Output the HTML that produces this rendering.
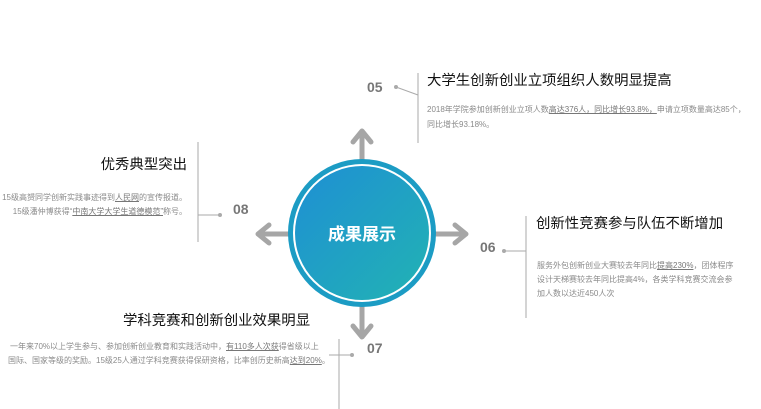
<!DOCTYPE html>
<html><head><meta charset="utf-8"><style>
body{margin:0;width:761px;height:409px;background:#fff;position:relative;overflow:hidden;font-family:"Liberation Sans","Noto Sans CJK SC",sans-serif}
.a{position:absolute;white-space:nowrap;line-height:1}
.t{font-size:14.4px;color:#111}
.b{font-size:8px;color:#8a8a8a}
.n{font-size:14px;font-weight:bold;color:#777}
u{text-decoration:underline;color:#777}
</style></head><body>
<svg width="761" height="409" style="position:absolute;left:0;top:0">
<defs><linearGradient id="g" x1="0" y1="0" x2="1" y2="1"><stop offset="0" stop-color="#1e8fd4"/><stop offset="1" stop-color="#22b3b3"/></linearGradient></defs>
<g stroke="#a6a6a6" stroke-width="5" fill="none" stroke-linecap="round" stroke-linejoin="round">
<line x1="362" y1="133" x2="362" y2="165"/><polyline points="353,142 362,131 371,142"/>
<line x1="362" y1="300" x2="362" y2="336"/><polyline points="353,326 362,337 371,326"/>
<line x1="259" y1="234" x2="295" y2="234"/><polyline points="269,225 258,234 269,243"/>
<line x1="430" y1="234" x2="465" y2="234"/><polyline points="455,225 466,234 455,243"/>
</g>
<circle cx="362" cy="233" r="74" fill="#1c9cc4"/>
<circle cx="362" cy="233" r="69" fill="#fff"/>
<circle cx="362" cy="233" r="67" fill="url(#g)"/>
<g stroke="#aaa" stroke-width="1" fill="#aaa">
<line x1="418" y1="73" x2="418" y2="143"/><line x1="396" y1="87" x2="418" y2="95"/><circle cx="396" cy="87" r="2" stroke="none"/>
<line x1="198" y1="142" x2="198" y2="242"/><line x1="198" y1="215" x2="220" y2="215"/><circle cx="220" cy="215" r="2" stroke="none"/>
<line x1="526" y1="216" x2="526" y2="318"/><line x1="504" y1="251" x2="526" y2="251"/><circle cx="504" cy="251" r="2" stroke="none"/>
<line x1="339" y1="339" x2="339" y2="409"/><line x1="329" y1="355" x2="352" y2="355"/><circle cx="352" cy="355" r="2" stroke="none"/>
</g>
<text x="362" y="240" fill="#fff" font-size="17" font-weight="bold" text-anchor="middle" font-family="Liberation Sans,Noto Sans CJK SC,sans-serif">成果展示</text>
</svg>
<div class="a n" style="left:367px;top:80px">05</div>
<div class="a n" style="left:233px;top:202px">08</div>
<div class="a n" style="left:480px;top:240px">06</div>
<div class="a n" style="left:367px;top:341px">07</div>
<div class="a t" style="left:427px;top:74px">大学生创新创业立项组织人数明显提高</div>
<div class="a b" style="left:427px;top:106px">2018年学院参加创新创业立项人数<u>高达376人，同比增长93.8%，</u>申请立项数量高达85个，</div>
<div class="a b" style="left:427px;top:121px">同比增长93.18%。</div>
<div class="a t" style="right:574px;top:158px">优秀典型突出</div>
<div class="a b" style="right:574px;top:194px">15级高赟同学创新实践事迹得到<u>人民网</u>的宣传报道。</div>
<div class="a b" style="right:574px;top:208px">15级潘仲博获得“<u>中南大学大学生道德模范”</u>称号。</div>
<div class="a t" style="left:536px;top:217px">创新性竞赛参与队伍不断增加</div>
<div class="a b" style="left:537px;top:262px">服务外包创新创业大赛较去年同比<u>提高230%</u>，团体程序</div>
<div class="a b" style="left:537px;top:276px">设计天梯赛较去年同比提高4%，各类学科竞赛交流会参</div>
<div class="a b" style="left:537px;top:290px">加人数以达近450人次</div>
<div class="a t" style="left:123px;top:314px">学科竞赛和创新创业效果明显</div>
<div class="a b" style="left:10px;top:343px">一年来70%以上学生参与、参加创新创业教育和实践活动中，<u>有110多人次获</u>得省级以上</div>
<div class="a b" style="left:8px;top:357px">国际、国家等级的奖励。15级25人通过学科竞赛获得保研资格，比率创历史新高<u>达到20%</u>。</div>
</body></html>
